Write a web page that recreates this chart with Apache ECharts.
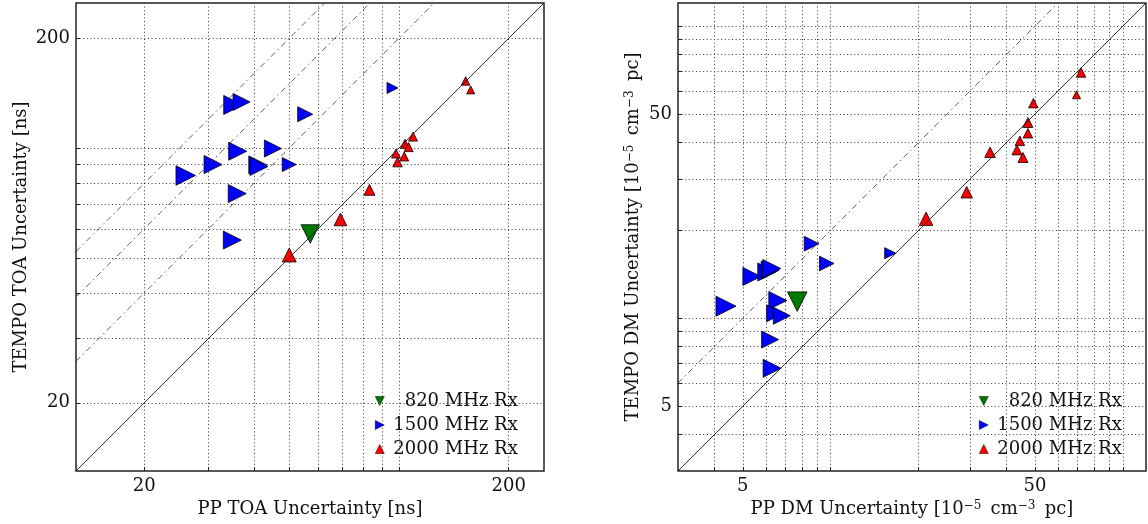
<!DOCTYPE html>
<html>
<head>
<meta charset="utf-8">
<script src="https://cdn.jsdelivr.net/npm/echarts@6/dist/echarts.min.js"></script>
<style>
html,body{margin:0;padding:0;background:#ffffff;}
#chart{width:1148px;height:524px;}
</style>
</head>
<body>
<div id="chart"></div>
<script>
// ---------------- data ----------------
const seriesNames = ['820 MHz Rx', '1500 MHz Rx', '2000 MHz Rx'];

// Left panel: TOA uncertainties [ns]
const toaRange = [13, 250];
const toaGridValues = [20, 30, 40, 50, 60, 70, 80, 90, 100, 200];
const toaTickLabels = [20, 200];
const toaRatios = [2, 3, 4];

const toa820PP    = [57.1];
const toa820TEMPO = [58.1];
const toa820Size  = [18.5];

const toa1500PP    = [35.1, 37.0, 55.3, 36.1, 45.1, 30.9, 41.0, 41.3, 50.0, 26.0, 36.0, 34.9, 96.0];
const toa1500TEMPO = [131.3, 133.8, 123.8, 98.0, 99.7, 90.1, 89.9, 89.0, 90.1, 84.1, 75.0, 55.9, 146.2];
const toa1500Size  = [19, 17, 15, 18, 17, 18, 18, 18, 14, 19.5, 18, 18, 11];

const toa2000PP    = [50.0, 69.1, 83.0, 109.3, 103.9, 106.3, 98.1, 103.4, 99.1, 152.4, 157.3];
const toa2000TEMPO = [50.9, 63.7, 76.8, 107.5, 102.7, 100.6, 96.6, 94.8, 91.5, 152.8, 144.4];
const toa2000Size  = [14, 12.7, 11, 9, 9, 9, 9, 9, 9.5, 8.5, 8];

// Right panel: DM uncertainties [1e-5 cm^-3 pc]
const dmRange = [3, 120];
const dmGridValues = [4, 5, 6, 7, 8, 9, 10, 20, 30, 40, 50, 60, 70, 80, 90, 100];
const dmTickLabels = [5, 50];
const dmRatios = [2];

const dm820PP    = [7.68];
const dm820TEMPO = [11.4];
const dm820Size  = [19.5];

const dm1500PP    = [8.60, 9.69, 15.98, 5.37, 6.04, 6.20, 6.28, 4.38, 6.59, 6.45, 6.80, 6.20, 6.30];
const dm1500TEMPO = [18.0, 15.4, 16.7, 13.9, 14.4, 14.6, 14.8, 11.0, 11.5, 10.4, 10.2, 8.45, 6.74];
const dm1500Size  = [14.7, 14.5, 11, 18, 18, 18, 18, 20, 18, 17, 17, 17, 18];

const dm2000PP    = [71.9, 69.4, 49.4, 47.3, 47.3, 44.4, 43.4, 45.5, 35.1, 29.2, 21.2];
const dm2000TEMPO = [69.4, 58.2, 54.5, 46.8, 43.0, 40.5, 37.7, 35.5, 37.0, 27.0, 21.9];
const dm2000Size  = [9.5, 8, 9.5, 10, 9.5, 9.5, 10, 10, 10.5, 11.5, 13.5];

// ---------------- styling ----------------
const FONT = 'DejaVu Serif';
const TXT = '#111111';
const colors = ['#007a00', '#0000ff', '#ff0000'];
const rotations = [180, -90, 0];
const legendIcons = [
  'path://M0,0 L10,0 L5,10 Z',
  'path://M0,0 L10,5 L0,10 Z',
  'path://M5,0 L10,10 L0,10 Z'
];

function zip(xs, ys, ss) { return xs.map((x, i) => [x, ys[i], ss[i]]); }

function scatter(name, idx, data, gi) {
  return {
    type: 'scatter', name: name, xAxisIndex: gi, yAxisIndex: gi,
    data: data, symbol: 'triangle', symbolRotate: rotations[idx],
    symbolSize: v => v[2],
    itemStyle: { color: colors[idx], borderColor: '#000', borderWidth: 0.8, opacity: 1 },
    z: 3, clip: true
  };
}

function refLine(ratio, range, gi, dashed) {
  const lo = range[0], hi = range[1];
  const x0 = lo, y0 = lo * ratio;
  const x1 = hi / ratio, y1 = hi;
  return {
    type: 'line', xAxisIndex: gi, yAxisIndex: gi, silent: true,
    data: [[x0, y0], [x1, y1]], symbol: 'none', z: 4,
    lineStyle: dashed
      ? { color: '#3a3a3a', width: 0.8, type: [6, 3.5, 1.5, 3.5] }
      : { color: '#1a1a1a', width: 0.9, type: 'solid' }
  };
}

function xAxis(range, gridVals, labels, gi, name) {
  return {
    type: 'log', logBase: 10, gridIndex: gi, min: range[0], max: range[1],
    name: name, nameLocation: 'middle', nameGap: 27,
    nameTextStyle: { fontFamily: FONT, fontSize: 18, color: TXT, rich: { s: { fontFamily: FONT, fontSize: 12, color: TXT, verticalAlign: 'top' } } },
    axisLine: { show: false },
    axisTick: { show: true, inside: true, length: 4, customValues: gridVals, lineStyle: { color: '#222', width: 1 } },
    axisLabel: { show: true, customValues: labels, margin: 6, fontFamily: FONT, fontSize: 18, color: TXT, formatter: v => String(Math.round(v)) },
    splitLine: { show: true, lineStyle: { color: '#333', width: 1, type: [1, 2.6] } },
    minorTick: { show: false }, minorSplitLine: { show: false }
  };
}

function yAxis(range, gridVals, labels, gi, name, gap) {
  const a = xAxis(range, gridVals, labels, gi, name);
  a.nameGap = gap;
  a.nameRotate = 90;
  return a;
}

const legendData = seriesNames.map((n, i) => ({
  name: n, icon: legendIcons[i],
  itemStyle: { color: colors[i], borderColor: '#000', borderWidth: 0.5 }
}));

const option = {
  animation: false,
  backgroundColor: '#ffffff',
  grid: [
    { left: 76, top: 3, width: 468, height: 468, show: true, borderColor: '#222', borderWidth: 1.5, backgroundColor: 'transparent' },
    { left: 678, top: 3, width: 468, height: 468, show: true, borderColor: '#222', borderWidth: 1.5, backgroundColor: 'transparent' }
  ],
  xAxis: [
    xAxis(toaRange, toaGridValues, toaTickLabels, 0, 'PP TOA Uncertainty [ns]'),
    xAxis(dmRange, dmGridValues, dmTickLabels, 1, 'PP DM Uncertainty [10{s|\u22125}\u2009 cm{s|\u22123}\u2009 pc]')
  ],
  yAxis: [
    yAxis(toaRange, toaGridValues, toaTickLabels, 0, 'TEMPO TOA Uncertainty [ns]', 46),
    yAxis(dmRange, dmGridValues, dmTickLabels, 1, 'TEMPO DM Uncertainty [10{s|\u22125}\u2009 cm{s|\u22123}\u2009 pc]', 36)
  ],
  legend: [
    { left: 370, top: 387 }, { left: 974, top: 387 }
  ].map(p => ({
    left: p.left, top: p.top, orient: 'vertical', itemWidth: 9, itemHeight: 9, itemGap: 6,
    selectedMode: false, data: legendData,
    textStyle: { fontFamily: FONT, fontSize: 18, color: TXT, padding: [0, 0, 0, 4] },
    formatter: n => n.indexOf('820') === 0 ? '\u2007' + n : n
  })),
  series: [
    scatter(seriesNames[0], 0, zip(toa820PP, toa820TEMPO, toa820Size), 0),
    scatter(seriesNames[1], 1, zip(toa1500PP, toa1500TEMPO, toa1500Size), 0),
    scatter(seriesNames[2], 2, zip(toa2000PP, toa2000TEMPO, toa2000Size), 0),
    scatter(seriesNames[0], 0, zip(dm820PP, dm820TEMPO, dm820Size), 1),
    scatter(seriesNames[1], 1, zip(dm1500PP, dm1500TEMPO, dm1500Size), 1),
    scatter(seriesNames[2], 2, zip(dm2000PP, dm2000TEMPO, dm2000Size), 1),
    refLine(1, toaRange, 0, false),
    ...toaRatios.map(r => refLine(r, toaRange, 0, true)),
    refLine(1, dmRange, 1, false),
    ...dmRatios.map(r => refLine(r, dmRange, 1, true))
  ]
};

const chart = echarts.init(document.getElementById('chart'), null, { renderer: 'canvas' });
chart.setOption(option);
</script>
</body>
</html>
